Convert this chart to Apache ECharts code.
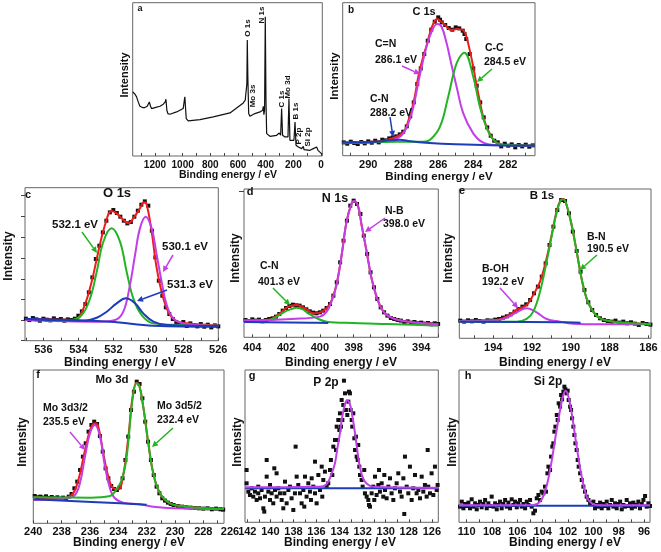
<!DOCTYPE html>
<html><head><meta charset="utf-8">
<script src="https://cdn.jsdelivr.net/npm/echarts@6/dist/echarts.min.js"></script>
<style>html,body{margin:0;padding:0;background:#fff}#c{width:661px;height:552px}</style>
</head><body><div id="c"></div>
<script>
// ---------- DATA (binding energy eV, intensity a.u.) ----------
const surveyTickLabels = [0,200,400,600,800,1000,1200];
const surveyTicks = [0,100,200,300,400,500,600,700,800,900,1000,1100,1200,1300];
const surveyLine = [[1361,192],[1344,185],[1333,177],[1321,162],[1309,149],[1290,145],[1273,145],[1256,149],[1241,162],[1232,149],[1225,142],[1200,145],[1164,149],[1140,155],[1126,162],[1121,170],[1114,137],[1107,127],[1092,125],[1044,132],[996,142],[988,167],[984,177],[979,142],[974,112],[960,105],[875,109],[779,117],[658,129],[562,159],[548,167],[540,170],[536,217],[533,347],[529,237],[523,127],[514,119],[502,122],[478,127],[441,132],[422,137],[417,149],[413,124],[408,137],[403,417],[398,167],[393,67],[369,59],[321,62],[302,69],[292,62],[285,142],[278,62],[261,57],[239,57],[232,172],[225,47],[213,42],[196,47],[188,102],[181,32],[164,27],[140,22],[128,29],[123,19],[80,17],[56,22],[32,27],[22,17],[8,12],[-9,5]];

const C1s_labels = [282,284,286,288,290];
const C1s_ticks = [281,282,283,284,285,286,287,288,289,290,291];
const C1s_dots = [[291.4,40],[291.2,36],[291.0,42],[290.8,38],[290.6,35],[290.4,41],[290.2,37],[290.0,43],[289.8,39],[289.6,45],[289.4,40],[289.2,48],[289.0,46],[288.8,52],[288.6,55],[288.4,58],[288.2,64],[288.0,72],[287.8,88],[287.6,118],[287.4,160],[287.2,215],[287.0,262],[286.8,305],[286.6,345],[286.4,378],[286.2,402],[286.0,415],[285.9,408],[285.8,400],[285.6,392],[285.4,383],[285.2,378],[285.0,385],[284.8,382],[284.6,375],[284.5,365],[284.4,350],[284.2,305],[284.0,262],[283.8,210],[283.6,160],[283.4,115],[283.2,85],[283.0,60],[282.8,45],[282.6,40],[282.4,28],[282.2,36],[282.0,30],[281.8,34],[281.6,25],[281.4,32],[281.2,28],[281.0,33],[280.8,27],[280.6,31]];
const C1s_total = [[291.46,39],[289.9,41],[289.14,45],[288.76,50],[288.38,57],[288.1,66],[287.9,77],[287.71,105],[287.52,137],[287.33,180],[287.14,237],[286.86,297],[286.67,330],[286.48,367],[286.29,395],[286.06,410],[285.9,405],[285.62,393],[285.43,382],[285.24,377],[284.95,380],[284.67,379],[284.48,370],[284.29,337],[284.0,267],[283.81,212],[283.62,162],[283.43,117],[283.14,75],[282.86,49],[282.57,37],[282.1,32],[280.47,30]];
const C1s_CeqN = [[291.46,39],[289.52,41],[288.57,47],[288.0,67],[287.52,127],[287.05,242],[286.67,327],[286.38,372],[286.06,395],[285.81,387],[285.52,337],[285.24,272],[284.95,207],[284.57,127],[284.0,67],[283.43,39],[282.67,32],[280.47,30]];
const C1s_CC = [[291.46,37],[288.38,42],[286.86,42],[286.48,47],[285.9,87],[285.43,177],[284.95,277],[284.51,309],[284.0,237],[283.62,147],[283.14,72],[282.67,39],[282.1,32],[280.47,30]];
const C1s_base = [[291.46,39],[289.5,42],[288.8,46],[288.2,48],[287.6,43],[286.5,38],[285,34],[283,31],[280.47,30]];

const O1s_labels = [526,528,530,532,534,536];
const O1s_ticks = [526,527,528,529,530,531,532,533,534,535,536,537];
const O1s_yticks = [0,61,123,185,247,310,372,435];
const O1s_dots = [[537.0,66],[536.8,62],[536.6,68],[536.4,64],[536.2,60],[536.0,66],[535.8,63],[535.6,61],[535.4,67],[535.2,62],[535.0,65],[534.8,60],[534.6,64],[534.4,62],[534.2,66],[534.0,75],[533.8,88],[533.6,110],[533.4,145],[533.2,190],[533.0,245],[532.8,285],[532.6,325],[532.4,360],[532.2,385],[532.0,392],[531.8,383],[531.6,372],[531.4,360],[531.2,352],[531.0,356],[530.8,372],[530.6,390],[530.4,408],[530.2,418],[530.0,405],[529.8,330],[529.6,250],[529.4,180],[529.2,135],[529.0,100],[528.8,80],[528.6,65],[528.4,55],[528.2,50],[528.0,56],[527.8,44],[527.6,52],[527.4,47],[527.2,43],[527.0,50],[526.8,42],[526.6,48],[526.4,40],[526.2,46],[526.0,43]];
const O1s_total = [[537.05,65],[535.05,63],[534.19,62],[533.71,97],[533.24,177],[532.86,267],[532.48,347],[532.1,389],[531.81,382],[531.43,362],[531.14,352],[530.86,367],[530.48,397],[530.25,415],[530.1,409],[529.81,327],[529.52,217],[529.14,127],[528.76,77],[528.38,59],[527.81,52],[526,45]];
const O1s_532 = [[537.05,62],[534.48,62],[533.81,77],[533.33,127],[532.95,207],[532.57,297],[532.1,337],[531.62,297],[531.24,207],[530.86,127],[530.38,77],[529.71,52],[528,47],[526,45]];
const O1s_530 = [[537.05,62],[532.76,57],[531.9,62],[531.43,87],[531.05,167],[530.76,257],[530.48,337],[530.15,372],[529.81,337],[529.52,257],[529.24,177],[528.95,107],[528.57,67],[528,52],[526,45]];
const O1s_531 = [[537.05,65],[533.71,60],[532.95,69],[532.38,87],[531.81,112],[531.28,127],[530.76,112],[530.29,82],[529.71,57],[528.95,47],[526,44]];
const O1s_base = [[537.05,65],[532.2,57],[529.7,45],[526,42]];

const N1s_labels = [394,396,398,400,402,404];
const N1s_ticks = [393,394,395,396,397,398,399,400,401,402,403,404];
const N1s_dots = [[404.4,52],[404.2,49],[404.0,54],[403.8,50],[403.6,53],[403.4,48],[403.2,52],[403.0,55],[402.8,57],[402.6,62],[402.4,70],[402.2,80],[402.0,88],[401.8,94],[401.6,98],[401.4,96],[401.2,95],[401.0,90],[400.8,84],[400.6,78],[400.4,74],[400.2,72],[400.0,75],[399.8,80],[399.6,88],[399.4,100],[399.2,125],[399.0,165],[398.8,225],[398.6,290],[398.4,350],[398.2,395],[398.0,410],[397.8,400],[397.6,370],[397.4,305],[397.2,250],[397.0,195],[396.8,150],[396.6,115],[396.4,90],[396.2,75],[396.0,65],[395.8,58],[395.6,55],[395.4,52],[395.2,50],[395.0,46],[394.8,48],[394.6,44],[394.4,46],[394.2,42],[394.0,44],[393.8,41],[393.6,43],[393.4,39],[393.2,42],[393.0,40]];
const N1s_total = [[404.49,52],[403.25,52],[402.86,55],[402.36,72],[401.87,92],[401.38,97],[400.88,87],[400.39,72],[400.0,74],[399.6,87],[399.31,110],[399.01,160],[398.71,247],[398.42,347],[398.12,402],[397.96,409],[397.73,392],[397.53,337],[397.23,257],[396.94,177],[396.54,107],[396.15,72],[395.56,55],[394.77,47],[393.78,42],[392.99,39]];
const N1s_NB = [[404.49,49],[401.67,55],[400.0,62],[399.6,77],[399.31,107],[399.01,157],[398.71,247],[398.42,347],[398.12,402],[397.96,409],[397.73,392],[397.53,337],[397.23,257],[396.94,177],[396.54,107],[396.15,72],[395.56,55],[394.77,47],[393.78,42],[392.99,39]];
const N1s_CN = [[404.49,47],[403.25,49],[402.66,59],[402.07,77],[401.67,85],[401.38,89],[401.0,84],[400.69,72],[400.09,55],[399.6,47],[398,43],[396,40],[394,37],[392.99,35]];
const N1s_base = [[404.49,46],[400.5,44],[399.5,43]];

const B1s_labels = [186,188,190,192,194];
const B1s_ticks = [186,187,188,189,190,191,192,193,194,195];
const B1s_dots = [[195.7,53],[195.5,50],[195.3,54],[195.1,51],[194.9,55],[194.7,52],[194.5,50],[194.3,54],[194.1,53],[193.9,56],[193.7,58],[193.5,62],[193.3,66],[193.1,72],[192.9,80],[192.7,88],[192.5,95],[192.3,102],[192.1,115],[191.9,135],[191.7,155],[191.5,185],[191.3,225],[191.1,280],[190.9,335],[190.7,385],[190.5,415],[190.3,412],[190.1,375],[189.9,320],[189.7,262],[189.5,200],[189.3,145],[189.1,108],[188.9,85],[188.7,70],[188.5,60],[188.3,55],[188.1,52],[187.9,50],[187.7,53],[187.5,47],[187.3,50],[187.1,45],[186.9,48],[186.7,44],[186.5,40],[186.3,46],[186.1,43],[185.9,41]];
const B1s_total = [[195.75,52],[193.83,55],[193.31,65],[192.8,85],[192.28,100],[191.94,130],[191.59,170],[191.25,240],[190.99,310],[190.74,380],[190.53,415],[190.39,418],[190.22,400],[189.96,340],[189.7,260],[189.45,180],[189.19,120],[188.85,80],[188.5,60],[187.81,50],[186.78,45],[185.87,42]];
const B1s_BN = [[195.75,50],[192.8,50],[192.28,58],[191.94,80],[191.59,140],[191.25,230],[190.91,330],[190.74,375],[190.53,413],[190.39,417],[190.22,400],[189.96,340],[189.7,260],[189.45,180],[189.19,120],[188.85,80],[188.5,60],[187.81,50],[186.78,45],[185.87,42]];
const B1s_BOH = [[195.75,52],[193.83,54],[193.31,62],[192.8,78],[192.28,90],[191.77,78],[191.25,58],[190.56,50],[189.88,44],[188.5,42],[185.87,42]];
const B1s_base = [[195.75,50],[190.5,48],[189.5,47]];

const Mo3d_labels = [228,230,232,234,236,238,240];
const Mo3d_ticks = [227,228,229,230,231,232,233,234,235,236,237,238,239,240];
const Mo3d_dots = [[239.9,82],[239.7,78],[239.5,80],[239.3,77],[239.1,81],[238.9,76],[238.7,79],[238.5,75],[238.3,78],[238.1,74],[237.9,77],[237.7,73],[237.5,80],[237.3,88],[237.1,105],[236.9,125],[236.7,160],[236.5,200],[236.3,240],[236.1,275],[235.9,295],[235.7,305],[235.5,298],[235.3,262],[235.1,215],[234.9,165],[234.7,135],[234.5,112],[234.3,103],[234.1,100],[233.9,108],[233.7,135],[233.5,190],[233.3,260],[233.1,340],[232.9,395],[232.7,425],[232.5,418],[232.3,375],[232.1,305],[231.9,245],[231.7,190],[231.5,145],[231.3,110],[231.1,90],[230.9,75],[230.7,68],[230.5,62],[230.3,58],[230.1,55],[229.8,52],[229.5,50],[229.2,48],[228.9,47],[228.6,46],[228.3,45],[228.0,44],[227.7,45],[227.4,42],[227.1,44],[226.8,42],[226.6,41]];
const Mo3d_total = [[240,80],[238.12,75],[237.29,85],[236.82,130],[236.35,220],[235.95,285],[235.65,300],[235.41,290],[235.06,210],[234.71,140],[234.35,105],[234,102],[233.65,145],[233.29,260],[232.99,380],[232.71,422],[232.52,415],[232.24,350],[231.88,240],[231.53,150],[231.06,90],[230.35,60],[229.18,50],[227.76,45],[226.54,43]];
const Mo3d_52 = [[240,78],[236,77],[234.59,82],[234.24,95],[233.76,130],[233.41,200],[232.99,375],[232.71,420],[232.52,413],[232.24,350],[231.88,240],[231.53,150],[231.06,90],[230.35,60],[229.18,50],[227.76,45],[226.54,43]];
const Mo3d_32 = [[240,70],[237.65,75],[237.06,85],[236.71,120],[236.35,200],[236,270],[235.65,295],[235.29,260],[234.94,170],[234.59,105],[234.24,75],[233.65,62],[232.47,57],[231.53,50],[230.12,45],[226.54,43]];
const Mo3d_base = [[240,72],[233.88,60],[232,56]];

const P2p_labels = [126,128,130,132,134,136,138,140,142];
const P2p_ticks = [126,127,128,129,130,131,132,133,134,135,136,137,138,139,140,141,142];
const P2p_dots = [[142.06,157],[142.06,117],[141.91,92],[141.77,82],[141.62,102],[141.48,77],[141.34,92],[141.19,67],[141.05,107],[141.05,87],[140.9,72],[140.76,97],[140.61,42],[140.53,32],[140.47,77],[140.32,137],[140.32,187],[140.18,92],[140.03,112],[140.03,67],[139.89,87],[139.75,57],[139.66,162],[139.6,97],[139.46,147],[139.46,77],[139.31,102],[139.17,87],[139.02,67],[138.88,42],[138.79,87],[138.73,122],[138.59,57],[138.44,97],[138.3,107],[138.16,72],[138.01,37],[137.87,87],[137.81,227],[137.72,137],[137.58,112],[137.43,87],[137.29,57],[137.14,97],[137.06,47],[137,137],[136.86,77],[136.71,117],[136.57,92],[136.48,67],[136.42,132],[136.28,107],[136.13,182],[136.13,87],[135.99,57],[135.84,142],[135.7,97],[135.55,167],[135.5,77],[135.41,127],[135.27,152],[135.12,107],[134.98,117],[134.83,157],[134.75,187],[134.63,142],[134.54,227],[134.4,247],[134.31,217],[134.25,287],[134.17,247],[134.11,307],[134.02,277],[133.97,327],[133.88,287],[133.82,367],[133.76,307],[133.68,352],[133.62,425],[133.53,387],[133.45,337],[133.33,322],[133.24,362],[133.18,392],[133.1,387],[133.04,337],[132.95,307],[132.9,287],[132.81,327],[132.72,252],[132.66,217],[132.58,257],[132.52,197],[132.43,187],[132.38,232],[132.29,167],[132.23,142],[132.09,127],[132,107],[131.86,157],[131.8,87],[131.65,77],[131.51,67],[131.45,52],[131.36,47],[131.22,87],[131.08,107],[130.99,67],[130.93,137],[130.79,82],[130.64,112],[130.58,157],[130.5,92],[130.35,117],[130.21,77],[130.12,142],[130.06,97],[129.92,72],[129.77,107],[129.63,132],[129.49,87],[129.34,67],[129.2,102],[129.05,117],[128.91,147],[128.76,92],[128.62,77],[128.47,132],[128.39,25],[128.33,197],[128.18,107],[128.04,87],[127.9,167],[127.75,67],[127.61,102],[127.46,142],[127.32,87],[127.17,97],[127.03,72],[126.88,137],[126.74,92],[126.6,112],[126.45,77],[126.36,217],[126.31,107],[126.16,87],[126.02,147],[125.87,82],[125.73,167],[125.58,97],[125.5,112]];
const P2p_fit = [[142.2,105],[135.84,107],[135.3,110],[134.98,122],[134.7,145],[134.4,177],[134.2,220],[133.97,267],[133.8,310],[133.62,342],[133.45,362],[133.33,366],[133.18,360],[133.04,347],[132.85,310],[132.66,267],[132.48,220],[132.3,177],[132.05,140],[131.8,122],[131.4,110],[130.9,106],[125.44,104]];
const P2p_base = [[142.2,102],[125.44,102]];

const Si2p_labels = [96,98,100,102,104,106,108,110];
const Si2p_ticks = [96,97,98,99,100,101,102,103,104,105,106,107,108,109,110];
const Si2p_dots = [[110.53,47],[110.39,62],[110.26,42],[110.13,55],[110,49],[109.87,59],[109.74,42],[109.61,69],[109.47,47],[109.34,57],[109.21,39],[109.08,52],[108.95,62],[108.82,45],[108.68,55],[108.55,67],[108.42,42],[108.29,57],[108.16,49],[108.03,77],[107.89,47],[107.76,57],[107.63,39],[107.5,52],[107.37,62],[107.24,42],[107.11,55],[106.97,67],[106.84,47],[106.71,59],[106.58,42],[106.45,69],[106.32,52],[106.18,62],[106.05,45],[105.92,57],[105.79,67],[105.66,47],[105.53,55],[105.39,42],[105.26,62],[105.13,52],[105,67],[104.87,47],[104.74,27],[104.61,35],[104.47,72],[104.34,82],[104.21,67],[104.08,92],[103.95,87],[103.82,107],[103.74,92],[103.63,147],[103.55,167],[103.42,157],[103.34,197],[103.24,227],[103.16,237],[103.08,272],[103,287],[102.89,322],[102.82,307],[102.74,357],[102.63,347],[102.55,382],[102.47,369],[102.37,392],[102.29,407],[102.21,399],[102.11,387],[102.03,395],[101.95,367],[101.84,347],[101.76,337],[101.68,312],[101.58,287],[101.5,262],[101.42,237],[101.32,217],[101.24,187],[101.16,167],[101.05,147],[100.92,127],[100.79,107],[100.66,92],[100.53,77],[100.39,67],[100.26,57],[100,62],[99.87,42],[99.74,52],[99.61,47],[99.47,59],[99.34,42],[99.21,55],[99.08,49],[98.95,62],[98.82,42],[98.68,52],[98.55,67],[98.42,47],[98.29,57],[98.16,42],[98.03,55],[97.89,62],[97.76,39],[97.63,52],[97.5,47],[97.37,67],[97.24,49],[97.11,57],[96.97,42],[96.84,59],[96.71,47],[96.58,52],[96.45,62],[96.32,42],[96.18,55],[96.05,67],[95.92,79],[95.79,47],[95.66,57],[95.53,49]];
const Si2p_fit = [[110.61,51],[104.74,52],[104.21,62],[103.82,92],[103.42,157],[103.03,247],[102.63,337],[102.37,382],[102.18,395],[101.97,377],[101.71,327],[101.32,227],[100.92,137],[100.53,77],[100.13,57],[99.47,51],[95.53,51]];
const Si2p_base = [[110.61,50],[95.53,50]];

// ---------- LAYOUT / STYLE ----------
const FONT = 'Liberation Sans, Arial, sans-serif';
const RED = '#ee1c1c', PINK = '#c23ee8', GREEN = '#22b422', BLUE = '#1c3cb8', DOT = '#111';
// left, top, width, height, xmin, xmax, ymax, label margin, tick font size
const layout = [
  [132.7, 2.7, 189.6, 153.3, -9, 1361, 459, 4, 10],
  [342.7, 2.7, 192.3, 153, 280.47, 291.46, 459, 3.5, 11],
  [25, 187.7, 193.3, 153, 526, 537.05, 459, 3.5, 11],
  [244, 189, 194.3, 148.3, 392.99, 404.49, 445, 5, 11],
  [459.3, 189, 191.7, 149.3, 185.87, 195.75, 448, 4, 11],
  [33.3, 370, 190.7, 153.3, 226.54, 240, 460, 3, 11],
  [245, 370, 193.3, 152.3, 125.44, 142.2, 457, 4, 11],
  [459, 370, 191, 152.3, 95.53, 110.61, 457, 4, 11]
];
const tickLabels = [surveyTickLabels, C1s_labels, O1s_labels, N1s_labels, B1s_labels, Mo3d_labels, P2p_labels, Si2p_labels];
const tickMarks = [surveyTicks, C1s_ticks, O1s_ticks, N1s_ticks, B1s_ticks, Mo3d_ticks, P2p_ticks, Si2p_ticks];

const grids = [], xAxes = [], yAxes = [];
layout.forEach((L, i) => {
  grids.push({left: L[0], top: L[1], width: L[2], height: L[3], show: true, borderColor: '#666', borderWidth: 1, backgroundColor: 'transparent'});
  xAxes.push({gridIndex: i, type: 'value', min: L[4], max: L[5], inverse: true,
    axisLine: {show: false}, splitLine: {show: false},
    axisTick: {show: true, inside: true, length: 3, customValues: tickMarks[i], lineStyle: {color: '#444', width: 1}},
    axisLabel: {show: true, customValues: tickLabels[i], margin: L[7], fontSize: L[8], fontWeight: 'bold', color: '#111', fontFamily: FONT, formatter: v => String(v)}});
  const ya = {gridIndex: i, type: 'value', min: 0, max: L[6], axisLine: {show: false}, splitLine: {show: false}, axisLabel: {show: false}, axisTick: {show: false}};
  if (i === 2) ya.axisTick = {show: true, inside: false, length: 4, customValues: O1s_yticks, lineStyle: {color: '#444'}};
  if (i === 3) ya.axisTick = {show: true, inside: false, length: 5, customValues: [437], lineStyle: {color: '#444'}};
  yAxes.push(ya);
});

const series = [];
function dots(i, data, size) {
  series.push({type: 'scatter', xAxisIndex: i, yAxisIndex: i, data, symbol: 'rect', symbolSize: size || 4, itemStyle: {color: DOT, opacity: 1}, silent: true, z: 2});
}
function line(i, data, color, w, smooth) {
  series.push({type: 'line', xAxisIndex: i, yAxisIndex: i, data, symbol: 'none', showSymbol: false, smooth: smooth === undefined ? 0.4 : smooth, lineStyle: {color, width: w || 2}, silent: true, z: 3});
}
line(0, surveyLine, '#111', 1.2, false);
dots(1, C1s_dots); line(1, C1s_total, RED); line(1, C1s_CeqN, PINK); line(1, C1s_CC, GREEN); line(1, C1s_base, BLUE);
dots(2, O1s_dots); line(2, O1s_total, RED); line(2, O1s_532, GREEN); line(2, O1s_530, PINK); line(2, O1s_531, BLUE); line(2, O1s_base, BLUE);
dots(3, N1s_dots); line(3, N1s_total, RED); line(3, N1s_CN, GREEN); line(3, N1s_NB, PINK); line(3, N1s_base, BLUE);
dots(4, B1s_dots); line(4, B1s_total, RED); line(4, B1s_BOH, PINK); line(4, B1s_BN, GREEN); line(4, B1s_base, BLUE);
dots(5, Mo3d_dots); line(5, Mo3d_total, RED); line(5, Mo3d_32, PINK); line(5, Mo3d_52, GREEN); line(5, Mo3d_base, BLUE);
dots(6, P2p_dots, 4); line(6, P2p_base, BLUE); line(6, P2p_fit, PINK);
dots(7, Si2p_dots, 4); line(7, Si2p_base, BLUE); line(7, Si2p_fit, PINK);

// ---------- annotations ----------
const G = [];
function txt(text, x, y, size, align, rot) {
  G.push({type: 'text', x, y, rotation: rot || 0, z: 100,
    style: {text, fontSize: size, fontWeight: 'bold', fontFamily: FONT, fill: '#111', align: align || 'left', verticalAlign: 'middle'}});
}
function arrow(x1, y1, x2, y2, color) {
  const a = Math.atan2(y2 - y1, x2 - x1), L = 6, W = 3;
  const bx = x2 - L * Math.cos(a), by = y2 - L * Math.sin(a);
  const px = -Math.sin(a) * W, py = Math.cos(a) * W;
  G.push({type: 'line', z: 100, shape: {x1, y1, x2: bx, y2: by}, style: {stroke: color, lineWidth: 1.5}});
  G.push({type: 'polygon', z: 100, shape: {points: [[x2, y2], [bx + px, by + py], [bx - px, by - py]]}, style: {fill: color}});
}
const V = Math.PI / 2;
// axis names
[[228,175,10.5],[439,177,11.5],[120,363,12],[341,363,12],[555,363,12],[129,543,12],[340,543,12],[565,543,12]].forEach(p => txt('Binding energy / eV', p[0], p[1], p[2], 'center'));
[[125,75,11],[335,76,11.5],[9,256,12],[236,258,12],[449,258,12],[23,442,12],[238,442,12],[453,442,12]].forEach(p => txt('Intensity', p[0], p[1], p[2], 'center', V));
// panel letters
[['a',140,9,9],['b',351,10,10],['c',28,195,11],['d',250,192,11],['e',462,191,11],['f',38,375,11],['g',252,376,11],['h',468,376,11]].forEach(p => txt(p[0], p[1], p[2], p[3], 'center'));
txt('226', 230, 532, 11, 'center');
// survey peak labels (vertical)
[['O 1s',248,28],['N 1s',262,15],['Mo 3s',253,96],['C 1s',282,99],['Mo 3d',288,87],['B 1s',296,111],['P 2p',299,136],['Si 2p',308,137]].forEach(p => txt(p[0], p[1], p[2], 8, 'center', V));
// panel b
txt('C 1s', 424, 12, 11, 'center');
txt('C=N', 375, 44, 10.5); txt('286.1 eV', 375, 60, 10.5);
txt('C-C', 485, 48, 10.5); txt('284.5 eV', 484, 62, 10.5);
txt('C-N', 370, 99, 10.5); txt('288.2 eV', 370, 113, 10.5);
arrow(402, 66, 420, 74, PINK); arrow(492, 69, 477, 82, GREEN); arrow(390, 117, 393, 137, BLUE);
// panel c
txt('O 1s', 117, 193, 13, 'center');
txt('532.1 eV', 52, 225, 11.5); txt('530.1 eV', 162, 247, 11.5); txt('531.3 eV', 167, 285, 11.5);
arrow(82, 232, 97, 253, GREEN); arrow(173, 255, 163, 272, PINK); arrow(167, 290, 137, 301, BLUE);
// panel d
txt('N 1s', 335, 199, 12.5, 'center');
txt('N-B', 385, 211, 10.5); txt('398.0 eV', 383, 224, 10.5);
txt('C-N', 260, 266, 10.5); txt('401.3 eV', 258, 282, 10.5);
arrow(385, 218, 365, 232, PINK); arrow(273, 288, 290, 305, GREEN);
// panel e
txt('B 1s', 542, 196, 11.5, 'center');
txt('B-N', 587, 237, 10.5); txt('190.5 eV', 587, 249, 10.5);
txt('B-OH', 482, 269, 10.5); txt('192.2 eV', 482, 282, 10.5);
arrow(500, 288, 518, 308, PINK); arrow(597, 255, 580, 270, GREEN);
// panel f
txt('Mo 3d', 112, 380, 11.5, 'center');
txt('Mo 3d3/2', 43, 408, 10.5); txt('235.5 eV', 43, 422, 10.5);
txt('Mo 3d5/2', 157, 406, 10.5); txt('232.4 eV', 157, 420, 10.5);
arrow(70, 432, 85, 450, PINK); arrow(173, 428, 152, 447, GREEN);
// panels g, h
txt('P 2p', 326, 383, 12, 'center');
txt('Si 2p', 548, 382, 12, 'center');

const chart = echarts.init(document.getElementById('c'), null, {renderer: 'canvas'});
chart.setOption({
  animation: false,
  backgroundColor: '#fff',
  textStyle: {fontFamily: FONT},
  grid: grids, xAxis: xAxes, yAxis: yAxes, series, graphic: G
});
</script></body></html>
